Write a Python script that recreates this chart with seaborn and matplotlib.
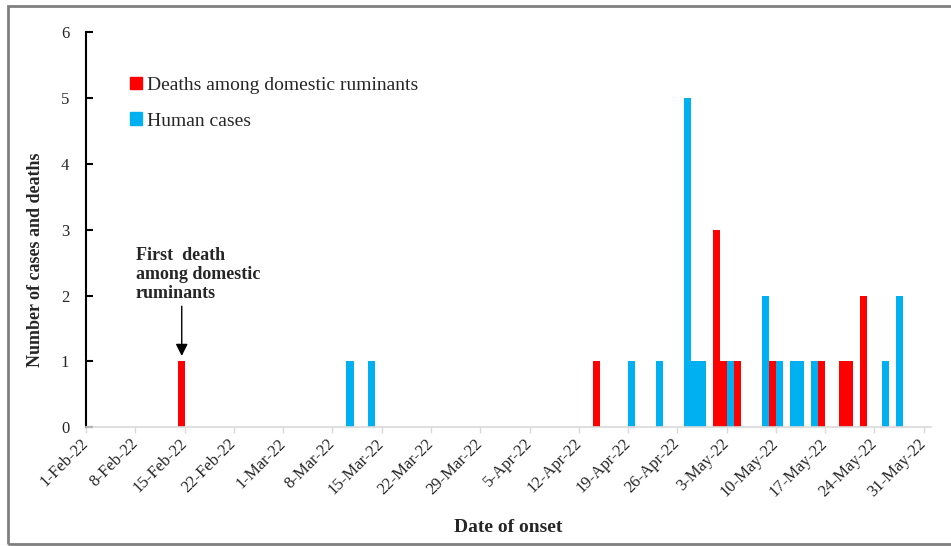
import pandas as pd
import seaborn as sns
import matplotlib.pyplot as plt
import matplotlib.transforms as mtransforms
from matplotlib.patches import Patch, Rectangle

# === Data (date of onset -> count) ===
death_dates = ["2022-02-14", "2022-04-14", "2022-05-01", "2022-05-02", "2022-05-04",
               "2022-05-09", "2022-05-16", "2022-05-19", "2022-05-20", "2022-05-22"]
death_counts = [1, 1, 3, 1, 1, 1, 1, 1, 1, 2]

human_dates = ["2022-03-10", "2022-03-13", "2022-04-19", "2022-04-23", "2022-04-27",
               "2022-04-28", "2022-04-29", "2022-05-03", "2022-05-08", "2022-05-10",
               "2022-05-12", "2022-05-13", "2022-05-15", "2022-05-25", "2022-05-27"]
human_counts = [1, 1, 1, 1, 5, 1, 1, 1, 2, 1, 1, 1, 1, 1, 2]

tick_labels = ["1-Feb-22", "8-Feb-22", "15-Feb-22", "22-Feb-22", "1-Mar-22", "8-Mar-22",
               "15-Mar-22", "22-Mar-22", "29-Mar-22", "5-Apr-22", "12-Apr-22", "19-Apr-22",
               "26-Apr-22", "3-May-22", "10-May-22", "17-May-22", "24-May-22", "31-May-22"]

start = pd.Timestamp("2022-02-01")
deaths = pd.DataFrame({"day": (pd.to_datetime(death_dates) - start).days, "n": death_counts})
humans = pd.DataFrame({"day": (pd.to_datetime(human_dates) - start).days, "n": human_counts})

RED = "#FF0000"
BLUE = "#00B0F0"

sns.set_style("white")
plt.rcParams['font.family'] = ['Liberation Serif', 'DejaVu Serif']

fig = plt.figure(figsize=(9.51, 5.46), dpi=100)
ax = fig.add_axes([86 / 951, 1 - 427.3 / 546, (930.8 - 86) / 951, (427.3 - 32) / 546])

# === Daily bars ===
sns.histplot(data=deaths, x="day", weights="n", binwidth=1, binrange=(0, 120),
             color=RED, alpha=1, linewidth=0, ax=ax)
sns.histplot(data=humans, x="day", weights="n", binwidth=1, binrange=(0, 120),
             color=BLUE, alpha=1, linewidth=0, ax=ax)

ax.set_xlim(0, 120)
ax.set_ylim(0, 6)
ax.set_yticks(range(0, 7))
ax.set_xticks(range(0, 120, 7))
ax.set_xticklabels(tick_labels, rotation=45, ha="right", va="center", rotation_mode="anchor")
# nudge the rotated labels a little right/down like the original
shift = mtransforms.ScaledTranslation(5 / 100, -4 / 100, fig.dpi_scale_trans)
for lbl in ax.get_xticklabels():
    lbl.set_transform(lbl.get_transform() + shift)

for s in ["top", "right"]:
    ax.spines[s].set_visible(False)
ax.spines["left"].set_color("black")
ax.spines["left"].set_linewidth(1.5)
ax.spines["bottom"].set_color("#D9D9D9")
ax.spines["bottom"].set_linewidth(1.2)
ax.tick_params(axis="y", direction="in", length=5, width=1.5, color="black",
               labelsize=12, pad=12, left=True)
ax.tick_params(axis="x", direction="out", length=4, width=1, color="#D9D9D9",
               labelsize=12, pad=6, bottom=True)

ax.set_xlabel("Date of onset", fontsize=14, fontweight="bold")
ax.set_ylabel("Number of cases and deaths", fontsize=13, fontweight="bold")
ax.yaxis.set_label_coords(-0.050, 0.425)
ax.xaxis.set_label_coords(0.5, -0.232)

# === Annotation for the first death ===
ax.annotate("", xy=(13.6, 1.04), xytext=(13.6, 1.88),
            arrowprops=dict(arrowstyle="-|>", color="black", lw=1, mutation_scale=18))
ax.text(7.1, 2.74, "First  death\namong domestic\nruminants", fontsize=13,
        fontweight="bold", ha="left", va="top", linespacing=1.15)

# === Legend ===
handles = [Patch(color=RED, label="Deaths among domestic ruminants"),
           Patch(color=BLUE, label="Human cases")]
fig.legend(handles=handles, loc="upper left", bbox_to_anchor=(130 / 951, 1 - 77 / 546),
           frameon=False, fontsize=14, handlelength=0.6, handleheight=0.6,
           handletextpad=0.25, labelspacing=0.95, borderpad=0, borderaxespad=0)

# chart border
fig.patches.append(Rectangle((8 / 951, 2 / 546), 1.0, 1 - 8 / 546, transform=fig.transFigure,
                             fill=False, edgecolor="#808080", linewidth=2))

fig.savefig("out.png", dpi=100)
